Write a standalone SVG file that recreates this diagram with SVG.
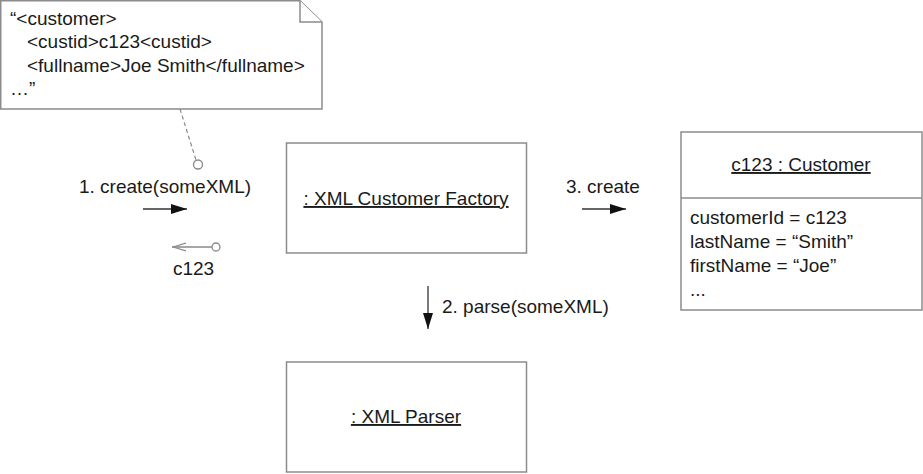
<svg xmlns="http://www.w3.org/2000/svg" width="923" height="474" viewBox="0 0 923 474">
<defs>
<style>
.box{fill:#fff;stroke:#8c8c8c;stroke-width:1.5}
.t{font-family:"Liberation Sans",Arial,sans-serif;font-size:19px;fill:#1a1a1a}
.c{text-anchor:middle}
.u{text-decoration:underline}
.ln{stroke:#333;stroke-width:1.3;fill:none}
</style>
<marker id="filled" viewBox="0 0 16 10" refX="16" refY="5" markerWidth="16" markerHeight="10" markerUnits="userSpaceOnUse" orient="auto">
<path d="M0,0 L16,5 L0,10 Z" fill="#111"/>
</marker>
<marker id="open" viewBox="0 0 14 10" refX="0" refY="5" markerWidth="14" markerHeight="10" markerUnits="userSpaceOnUse" orient="auto">
<path d="M14,1 L1,5 L14,9" fill="none" stroke="#888" stroke-width="1.3"/>
</marker>
</defs>
<rect width="923" height="474" fill="#fff"/>
<g id="note">
<path class="box" d="M0.75,0.75 H300 L322,22 V109 H0.75 Z"/>
<path class="box" d="M300,0.75 V22 H322" fill="none"/>
<text class="t" x="10" y="25">“&lt;customer&gt;</text>
<text class="t" x="27" y="48">&lt;custid&gt;c123&lt;custid&gt;</text>
<text class="t" x="27" y="72">&lt;fullname&gt;Joe Smith&lt;/fullname&gt;</text>
<text class="t" x="10" y="95">…”</text>
</g>
<g id="factory">
<rect class="box" x="286.5" y="143" width="240" height="110"/>
<text class="t c u" x="406" y="205">: XML Customer Factory</text>
</g>
<g id="customer">
<rect class="box" x="681" y="132" width="241" height="178"/>
<line class="box" x1="681" y1="198" x2="922" y2="198"/>
<text class="t c u" x="801" y="171">c123 : Customer</text>
<text class="t" x="690" y="224">customerId = c123</text>
<text class="t" x="690" y="248">lastName = “Smith”</text>
<text class="t" x="690" y="272">firstName = “Joe”</text>
<text class="t" x="690" y="296">...</text>
</g>
<g id="parser">
<rect class="box" x="286.5" y="362" width="240" height="110"/>
<text class="t c u" x="406" y="423">: XML Parser</text>
</g>
<g id="connectors">
<line x1="180" y1="109" x2="196" y2="160" stroke="#888" stroke-width="1.2" stroke-dasharray="4,3"/>
<circle cx="198" cy="164.5" r="4.5" fill="#fff" stroke="#888" stroke-width="1.3"/>
<text class="t c" x="165" y="193">1. create(someXML)</text>
<line class="ln" x1="143" y1="209" x2="187" y2="209" marker-end="url(#filled)"/>
<line x1="172" y1="247" x2="212" y2="247" stroke="#888" stroke-width="1.3" marker-start="url(#open)"/>
<circle cx="216" cy="247" r="4" fill="#fff" stroke="#888" stroke-width="1.3"/>
<text class="t c" x="193.5" y="275">c123</text>
<text class="t" x="566" y="193">3. create</text>
<line class="ln" x1="582" y1="209" x2="626" y2="209" marker-end="url(#filled)"/>
<line class="ln" x1="428" y1="286" x2="428" y2="329" marker-end="url(#filled)"/>
<text class="t" x="442" y="313">2. parse(someXML)</text>
</g>
</svg>
